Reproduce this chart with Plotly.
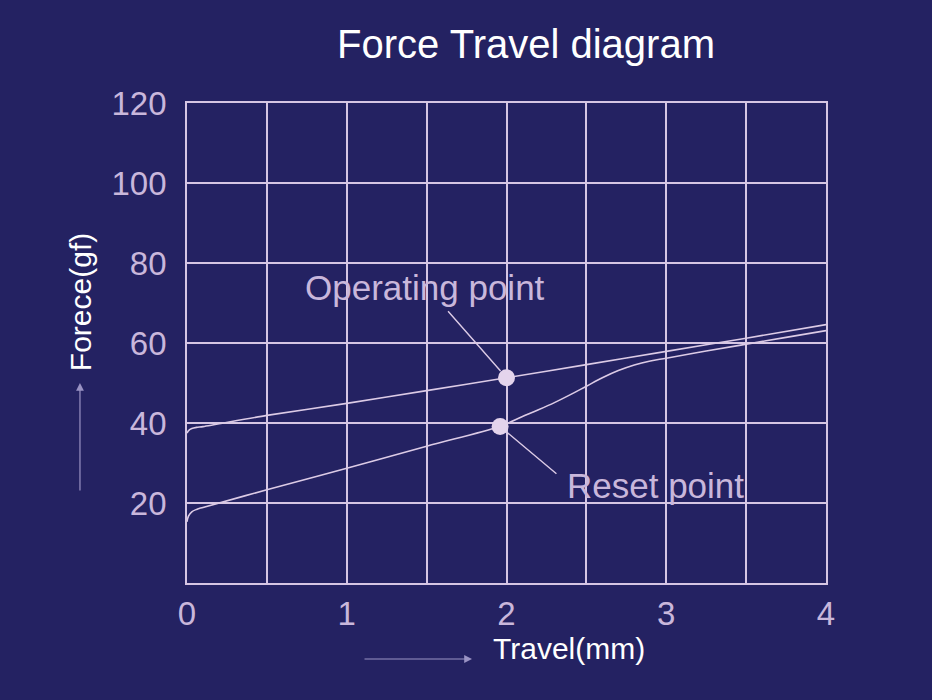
import plotly.graph_objects as go

# ---- data ----
operating_travel = [0.0, 0.01, 0.03, 0.06, 0.10, 0.5, 1.0, 1.5, 2.0, 2.5, 3.0, 3.5, 4.0]
operating_force = [37.5, 38.1, 38.6, 38.9, 39.1, 41.9, 44.9, 48.1, 51.3, 54.6, 57.9, 61.2, 64.6]

reset_travel = [0.0, 0.01, 0.03, 0.06, 0.10, 0.5, 1.0, 1.5, 1.96, 2.1, 2.2, 2.3, 2.4, 2.5,
                2.6, 2.7, 2.8, 2.9, 3.0, 3.25, 3.5, 3.75, 4.0]
reset_force = [15.3, 16.8, 17.8, 18.4, 18.9, 23.3, 28.7, 34.2, 39.2, 41.6, 43.3, 45.1, 47.1,
               49.2, 51.3, 53.1, 54.5, 55.5, 56.2, 58.0, 59.7, 61.4, 63.1]

point_names = ["Operating point", "Reset point"]
point_travel = [2.0, 1.96]
point_force = [51.3, 39.1]

x_ticks = [0, 1, 2, 3, 4]
y_ticks = [20, 40, 60, 80, 100, 120]

BG = "#242262"
GRID = "#d6c6e4"
LINE = "#dccbe6"
TICK = "#c9b7db"
FONT = "Liberation Sans, Arial, sans-serif"

fig = go.Figure()
fig.add_trace(go.Scatter(x=operating_travel, y=operating_force, mode="lines",
                         line=dict(color=LINE, width=1.6, shape="spline", smoothing=0.8),
                         hoverinfo="skip", showlegend=False))
fig.add_trace(go.Scatter(x=reset_travel, y=reset_force, mode="lines",
                         line=dict(color=LINE, width=1.6, shape="spline", smoothing=1.0),
                         hoverinfo="skip", showlegend=False))
fig.add_trace(go.Scatter(x=point_travel, y=point_force, mode="markers",
                         marker=dict(color="#e4d4ec", size=17),
                         text=point_names, showlegend=False))

annotations = [
    # pointer lines
    dict(x=point_travel[0], y=point_force[0], ax=1.626, ay=68.3, xref="x", yref="y",
         axref="x", ayref="y", text="", showarrow=True, arrowhead=0, arrowwidth=1.4,
         arrowcolor=LINE, standoff=9),
    dict(x=point_travel[1], y=point_force[1], ax=2.322, ay=27.0, xref="x", yref="y",
         axref="x", ayref="y", text="", showarrow=True, arrowhead=0, arrowwidth=1.4,
         arrowcolor=LINE, standoff=9),
    # labels
    dict(x=1.49, y=74.0, xref="x", yref="y", text=point_names[0], showarrow=False,
         xanchor="center", yanchor="middle", font=dict(family=FONT, size=35, color=TICK)),
    dict(x=2.93, y=24.5, xref="x", yref="y", text=point_names[1], showarrow=False,
         xanchor="center", yanchor="middle", font=dict(family=FONT, size=35, color=TICK)),
    # axis titles
    dict(x=0.598, y=-0.137, xref="paper", yref="paper", text="Travel(mm)", showarrow=False,
         xanchor="center", yanchor="middle", font=dict(family=FONT, size=30, color="white")),
    dict(x=-0.1675, y=0.585, xref="paper", yref="paper", text="Forece(gf)", showarrow=False,
         xanchor="center", yanchor="middle", textangle=-90,
         font=dict(family=FONT, size=30, color="white")),
    # axis direction arrows
    dict(x=-0.1675, y=0.4167, ax=0, ay=109, xref="paper", yref="paper",
         axref="pixel", ayref="pixel", text="", showarrow=True, arrowhead=2, arrowsize=1.3,
         arrowwidth=1.2, arrowcolor="#9a93c4"),
    dict(x=0.446, y=-0.1583, ax=-109, ay=0, xref="paper", yref="paper",
         axref="pixel", ayref="pixel", text="", showarrow=True, arrowhead=2, arrowsize=1.3,
         arrowwidth=1.2, arrowcolor="#9a93c4"),
]

fig.update_layout(
    width=932, height=700,
    margin=dict(l=187, r=106, t=103, b=117),
    paper_bgcolor=BG, plot_bgcolor=BG,
    title=dict(text="Force Travel diagram", x=0.5644, y=0.937, xanchor="center", yanchor="middle",
               font=dict(family=FONT, size=40, color="white")),
    annotations=annotations,
    showlegend=False,
)
fig.update_xaxes(range=[0, 4], tickvals=x_ticks, showgrid=True, gridcolor=GRID, gridwidth=1.8,
                 minor=dict(dtick=0.5, showgrid=True, gridcolor=GRID, gridwidth=1.8),
                 showline=True, mirror=True, linecolor=GRID, linewidth=1.8, zeroline=False,
                 ticks="", tickfont=dict(family=FONT, size=33, color=TICK), ticklabelstandoff=0)
fig.update_yaxes(range=[0, 120], tickvals=y_ticks, showgrid=True, gridcolor=GRID, gridwidth=1.8,
                 showline=True, mirror=True, linecolor=GRID, linewidth=1.8, zeroline=False,
                 ticks="", tickfont=dict(family=FONT, size=33, color=TICK), ticklabelstandoff=12)

fig.write_html("out.html", config={"displayModeBar": False},
               post_script="document.body.style.margin='0';")
